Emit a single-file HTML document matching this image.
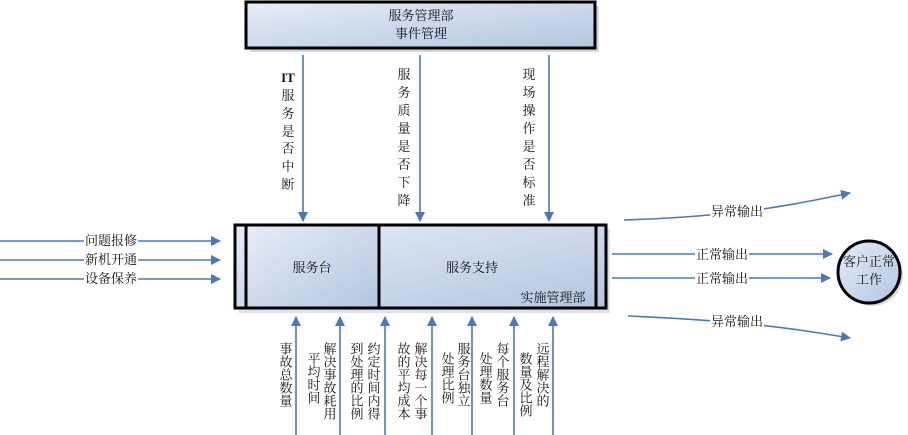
<!DOCTYPE html>
<html><head><meta charset="utf-8"><style>
html,body{margin:0;padding:0;background:#fff;}
svg{display:block;}
text{font-family:"Liberation Serif","Noto Serif CJK SC","Noto Sans CJK SC",serif;font-size:13px;fill:#111;}
.v{writing-mode:tb;glyph-orientation-vertical:0;}
</style></head><body>
<svg width="908" height="435" viewBox="0 0 908 435" xmlns="http://www.w3.org/2000/svg">
<defs>
<linearGradient id="g" x1="0" y1="0" x2="1" y2="1">
<stop offset="0" stop-color="#e6edf7"/><stop offset="1" stop-color="#b3c6e0"/></linearGradient>
<marker id="a" markerWidth="10" markerHeight="10" refX="9" refY="5" orient="auto" markerUnits="userSpaceOnUse">
<path d="M0,0 L10,5 L0,10 z" fill="#4a78b8"/></marker>
</defs>
<g stroke="#4a78b8" stroke-width="1.6" fill="none" marker-end="url(#a)">
<line x1="0" y1="241" x2="220" y2="241"/>
<line x1="0" y1="260" x2="220" y2="260"/>
<line x1="0" y1="279" x2="220" y2="279"/>
<line x1="303" y1="55" x2="303" y2="221"/>
<line x1="420" y1="55" x2="420" y2="221"/>
<line x1="549" y1="55" x2="549" y2="221"/>
<line x1="296" y1="435" x2="296" y2="317"/>
<line x1="340" y1="435" x2="340" y2="317"/>
<line x1="385" y1="435" x2="385" y2="317"/>
<line x1="432" y1="435" x2="432" y2="317"/>
<line x1="472" y1="435" x2="472" y2="317"/>
<line x1="514" y1="435" x2="514" y2="317"/>
<line x1="553" y1="435" x2="553" y2="317"/>
<line x1="612" y1="254" x2="832" y2="254"/>
<line x1="612" y1="278" x2="830" y2="278"/>
<path d="M624,220 C680,218 700,216 740,212 C790,206 820,199 850,193"/>
<path d="M628,316 C680,318 700,320 740,323 C790,328 820,333 850,338"/>
</g>
<g fill="#fff">
<rect x="84" y="233" width="54" height="16"/><rect x="84" y="252" width="54" height="16"/><rect x="84" y="271" width="54" height="16"/>
<rect x="695" y="246" width="54" height="16"/><rect x="695" y="270" width="54" height="16"/>
<rect x="710" y="204" width="54" height="16"/><rect x="710" y="314" width="54" height="16"/>
</g>
<text x="111" y="245" text-anchor="middle">问题报修</text>
<text x="111" y="264" text-anchor="middle">新机开通</text>
<text x="111" y="283" text-anchor="middle">设备保养</text>
<text x="722" y="259" text-anchor="middle">正常输出</text>
<text x="722" y="283" text-anchor="middle">正常输出</text>
<text x="737" y="216" text-anchor="middle">异常输出</text>
<text x="737" y="326" text-anchor="middle">异常输出</text>
<!-- top box -->
<rect x="250" y="6" width="349" height="46" fill="#d8d8d8"/>
<rect x="246" y="2" width="349" height="46" fill="url(#g)" stroke="#000" stroke-width="3"/>
<text x="421" y="20" text-anchor="middle" fill="#333">服务管理部</text>
<text x="421" y="38" text-anchor="middle" fill="#333">事件管理</text>
<!-- main box -->
<rect x="239" y="229" width="371" height="84" fill="#dde3ea"/>
<rect x="235" y="225" width="371" height="83" fill="url(#g)" stroke="#000" stroke-width="3"/>
<rect x="246" y="225" width="133" height="83" fill="url(#g)" stroke="#000" stroke-width="3"/>
<line x1="596" y1="225" x2="596" y2="308" stroke="#000" stroke-width="3"/>
<text x="312" y="272" text-anchor="middle">服务台</text>
<text x="472" y="272" text-anchor="middle">服务支持</text>
<text x="553" y="302" text-anchor="middle">实施管理部</text>
<!-- circle -->
<circle cx="872" cy="275" r="31" fill="#d8d8d8"/>
<circle cx="869" cy="272" r="31" fill="url(#g)" stroke="#000" stroke-width="3"/>
<text x="869" y="266" text-anchor="middle">客户正常</text>
<text x="869" y="284" text-anchor="middle">工作</text>
<!-- vertical labels top -->
<g text-anchor="middle">
<text x="288" y="82" font-weight="bold">IT</text>
<text x="288" y="100">服</text><text x="288" y="118">务</text><text x="288" y="136">是</text><text x="288" y="153">否</text><text x="288" y="171">中</text><text x="288" y="189">断</text>
<text x="404" y="79">服</text><text x="404" y="97">务</text><text x="404" y="115">质</text><text x="404" y="133">量</text><text x="404" y="151">是</text><text x="404" y="169">否</text><text x="404" y="187">下</text><text x="404" y="205">降</text>
<text x="529" y="79">现</text><text x="529" y="97">场</text><text x="529" y="115">操</text><text x="529" y="133">作</text><text x="529" y="151">是</text><text x="529" y="169">否</text><text x="529" y="187">标</text><text x="529" y="205">准</text>
</g>
<!-- vertical labels bottom -->
<text class="v" x="285" y="342">事故总数量</text>
<text class="v" x="329" y="342">解决事故耗用</text>
<text class="v" x="313" y="352">平均时间</text>
<text class="v" x="373" y="342">约定时间内得</text>
<text class="v" x="356" y="342">到处理的比例</text>
<text class="v" x="420" y="342">解决每一个事</text>
<text class="v" x="403" y="342">故的平均成本</text>
<text class="v" x="463" y="342">服务台独立</text>
<text class="v" x="447" y="352">处理比例</text>
<text class="v" x="502" y="342">每个服务台</text>
<text class="v" x="485" y="352">处理数量</text>
<text class="v" x="542" y="342">远程解决的</text>
<text class="v" x="525" y="352">数量及比例</text>
</svg>
</body></html>
